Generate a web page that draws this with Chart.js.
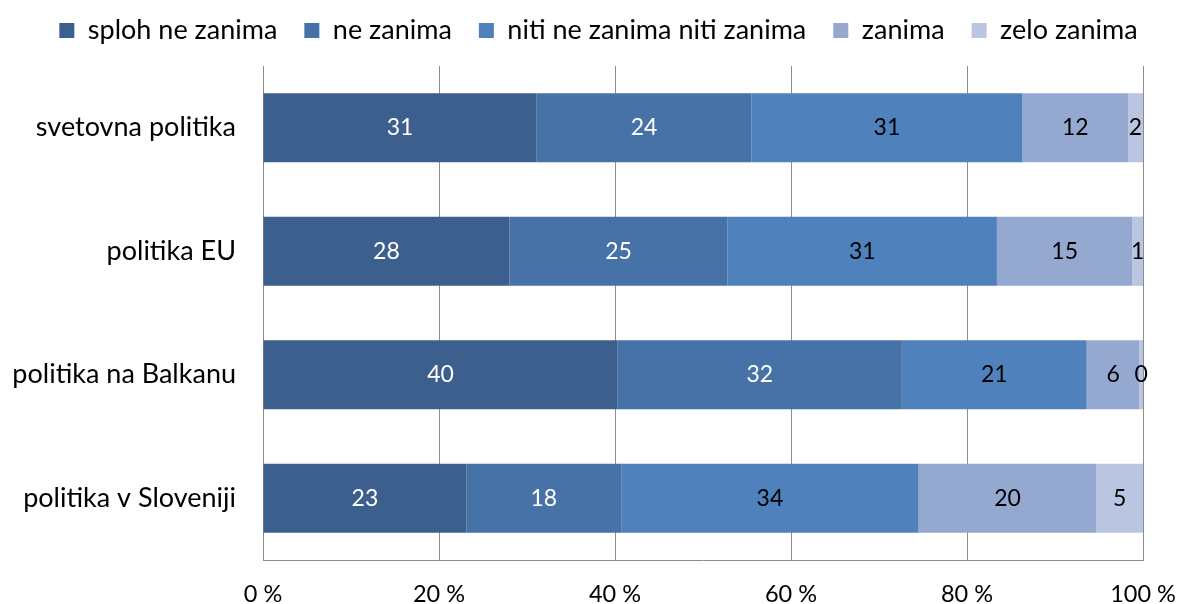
<!DOCTYPE html>
<html>
<head>
<meta charset="utf-8">
<script src="https://cdn.jsdelivr.net/npm/chart.js@4"></script>
<style>
  html, body { margin: 0; padding: 0; background: #fff; }
  #wrap { width: 1180px; height: 604px; }
</style>
</head>
<body>
<div id="wrap"><canvas id="chartPolitika"></canvas></div>
<script>
// kategorije (od zgoraj navzdol)
const categories = ['svetovna politika', 'politika EU', 'politika na Balkanu', 'politika v Sloveniji'];
const seriesNames = ['sploh ne zanima', 'ne zanima', 'niti ne zanima niti zanima', 'zanima', 'zelo zanima'];

// deleži v %, po serijah
const splohNeZanima = [31.1, 28.0, 40.3, 23.1];
const neZanima      = [24.4, 24.8, 32.3, 17.6];
const nitiNiti      = [30.8, 30.6, 21.0, 33.8];
const zanima        = [12.0, 15.4, 6.0, 20.2];
const zeloZanima    = [1.7, 1.2, 0.4, 5.3];

const xTicks = [0, 20, 40, 60, 80, 100];

const colors = ['#3c5f8e', '#4672a7', '#4f81bd', '#95a9d0', '#b9c5e1'];
const labelColors = ['#ffffff', '#ffffff', '#000000', '#000000', '#000000'];
const FONT = 'Lato';

// vrednosti na sredini vsakega segmenta
const valueLabels = {
  id: 'valueLabels',
  afterDatasetsDraw(chart) {
    const ctx = chart.ctx;
    ctx.save();
    ctx.font = '23px ' + FONT;
    ctx.textAlign = 'center';
    ctx.textBaseline = 'middle';
    chart.data.datasets.forEach((ds, i) => {
      const meta = chart.getDatasetMeta(i);
      meta.data.forEach((bar, j) => {
        const cx = (bar.x + bar.base) / 2;
        ctx.fillStyle = labelColors[i];
        ctx.fillText(Math.round(ds.data[j]), cx, bar.y);
      });
    });
    ctx.restore();
  }
};

// legenda: fiksna višina in malo zamaknjena v desno
const legendHeight = {
  id: 'legendHeight',
  beforeLayout(chart) {
    const lg = chart.legend;
    if (lg && !lg._patched) {
      const origFit = lg.fit.bind(lg);
      const origDraw = lg.draw.bind(lg);
      lg.fit = function () { origFit(); this.height = 76; };
      lg.draw = function () {
        chart.ctx.save();
        chart.ctx.translate(27, 0);
        origDraw();
        chart.ctx.restore();
      };
      lg._patched = true;
    }
  }
};

const allData = [splohNeZanima, neZanima, nitiNiti, zanima, zeloZanima];

new Chart(document.getElementById('chartPolitika'), {
  type: 'bar',
  data: {
    labels: categories,
    datasets: seriesNames.map((name, i) => ({
      label: name,
      data: allData[i],
      backgroundColor: colors[i],
      borderWidth: 0,
      barPercentage: 0.56,
      categoryPercentage: 1
    }))
  },
  options: {
    indexAxis: 'y',
    responsive: true,
    maintainAspectRatio: false,
    animation: false,
    layout: { padding: { left: 0, right: 37, top: -10, bottom: 0 } },
    plugins: {
      legend: {
        position: 'top',
        labels: {
          font: { family: FONT, size: 27 },
          color: '#000',
          boxWidth: 15,
          boxHeight: 15,
          padding: 27
        }
      },
      tooltip: { enabled: false }
    },
    scales: {
      x: {
        stacked: true,
        min: 0,
        max: 100,
        afterBuildTicks: (scale) => { scale.ticks = xTicks.map(v => ({ value: v })); },
        afterFit: (scale) => {
          scale.height = 44;
          scale.paddingLeft = 0;
          scale.paddingRight = 0;
        },
        ticks: {
          font: { family: FONT, size: 23.5 },
          color: '#000',
          padding: 20,
          callback: (v) => v + ' %'
        },
        grid: { color: '#8c8c8c', drawTicks: false },
        border: { display: true, color: '#8c8c8c' }
      },
      y: {
        stacked: true,
        afterFit: (scale) => { scale.width = 263; },
        ticks: {
          font: { family: FONT, size: 27 },
          color: '#000',
          padding: 27
        },
        grid: { display: false, drawTicks: false },
        border: { display: true, color: '#8c8c8c' }
      }
    }
  },
  plugins: [valueLabels, legendHeight]
});
</script>
</body>
</html>
